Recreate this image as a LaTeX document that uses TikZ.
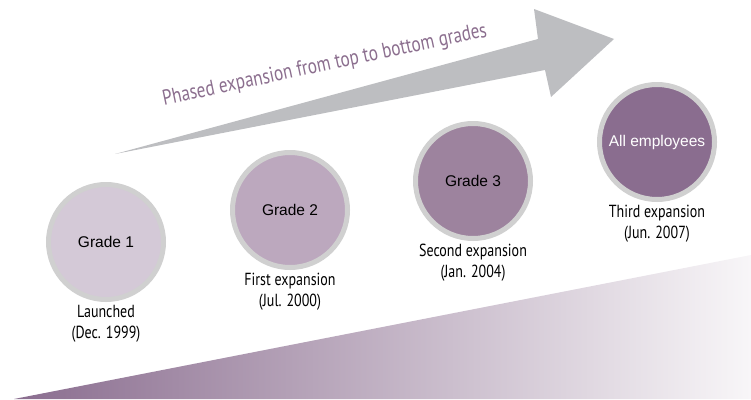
\documentclass[tikz,border=0pt]{standalone}
\usepackage{fontspec}
\usepackage{xcolor}
\usepackage{tikz}
\usetikzlibrary{positioning}
\newfontfamily\condfont[FakeStretch=0.8]{PT Sans}
\newfontfamily\gradefont{Liberation Sans}
\definecolor{arrowgray}{RGB}{189,190,193}
\definecolor{ringgray}{RGB}{208,208,208}
\definecolor{textpurple}{RGB}{139,110,142}
\definecolor{gradeone}{RGB}{212,201,215}
\definecolor{gradetwo}{RGB}{188,168,190}
\definecolor{gradethree}{RGB}{157,131,158}
\definecolor{gradeall}{RGB}{138,109,143}
\definecolor{fadeend}{RGB}{248,246,248}

\begin{document}
\begin{tikzpicture}[
  x=1pt, y=-1pt,
  grade/.style={circle, draw=ringgray, line width=5pt, minimum size=115pt,
                inner sep=0pt, font=\gradefont\fontsize{15.5}{18}\selectfont},
  when/.style={align=center, inner sep=0pt,
               font=\condfont\fontsize{17.5}{21}\selectfont},
]
  \useasboundingbox (0,0) rectangle (751,399);

  % fading wedge at the bottom
  \shade[left color=gradeall, right color=fadeend]
    (14,399) -- (751,255) -- (751,399) -- cycle;

  % big arrow
  \fill[arrowgray] (115,154) -- (538,39) -- (534,9) -- (614,39)
    -- (551,97) -- (545,70) -- cycle;
  \node[anchor=base, rotate=12, text=textpurple,
        font=\condfont\fontsize{21.5}{24}\selectfont] (phase) at (326,71)
    {Phased expansion from top to bottom grades};

  % grades
  \node[grade, fill=gradeone] (g1) at (106,242) {Grade 1};
  \node[grade, fill=gradetwo] (g2) at (290,210) {Grade 2};
  \node[grade, fill=gradethree] (g3) at (473,181) {Grade 3};
  \node[grade, fill=gradeall, text=white] (g4) at (657,142) {All employees};

  \node[when, below=3pt of g1] (w1) {Launched\\(Dec. 1999)};
  \node[when, below=3pt of g2] (w2) {First expansion\\(Jul. 2000)};
  \node[when, below=3pt of g3] (w3) {Second expansion\\(Jan. 2004)};
  \node[when, below=3pt of g4] (w4) {Third expansion\\(Jun. 2007)};
\end{tikzpicture}
\end{document}
